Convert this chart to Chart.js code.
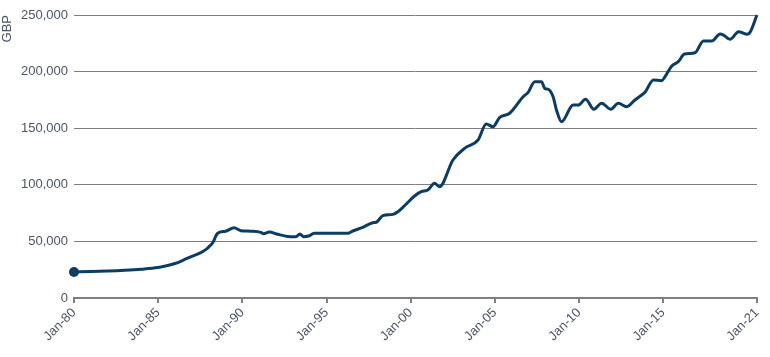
<!DOCTYPE html>
<html>
<head>
<meta charset="utf-8">
<script src="https://cdn.jsdelivr.net/npm/chart.js@4"></script>
<style>
  html, body { margin: 0; padding: 0; background: #fff; }
  #wrap { width: 770px; height: 357px; }
</style>
</head>
<body>
<div id="wrap"><canvas id="c" width="770" height="357"></canvas></div>
<script>
// Time (decimal years) and value (GBP)
const years = [
  1980.0, 1981.0, 1982.0, 1983.0, 1984.0, 1985.0, 1985.5, 1986.0, 1986.5, 1987.0, 1987.5, 1987.8, 1988.0, 1988.25,
  1988.52, 1989.0, 1989.51, 1989.91, 1990.5, 1991.10, 1991.26, 1991.60, 1992.10, 1992.69,
  1993.18, 1993.42, 1993.64, 1993.98, 1994.27, 1996.26, 1996.56, 1997.15, 1997.75, 1997.95,
  1998.35, 1998.94, 1999.24, 1999.63, 2000.23, 2000.63, 2001.02, 2001.42, 2001.71, 2002.51,
  2003.20, 2004.00, 2004.49, 2004.89, 2005.29, 2005.88, 2006.68, 2006.98, 2007.37, 2007.77,
  2007.96, 2008.17, 2008.46, 2008.66, 2008.96, 2009.65, 2009.95, 2010.39, 2010.88, 2011.34,
  2011.89, 2012.33, 2012.83, 2013.32, 2013.72, 2013.92, 2014.42, 2014.91, 2015.11, 2015.51,
  2015.90, 2016.26, 2016.89, 2017.39, 2017.89, 2018.38, 2018.58, 2018.98, 2019.48, 2019.95,
  2020.11, 2020.57
];
const values = [
  23000, 23300, 23800, 24500, 25500, 27000, 28500, 30500, 33500, 36800, 39800, 42500, 45000, 49000,
  57000, 59000, 62000, 59500, 59000, 58000, 56800, 58300, 56300, 54400,
  54200, 56500, 54200, 55000, 57200, 57200, 59200, 62400, 66500, 66900,
  72700, 73900, 76200, 81500, 90100, 93900, 95400, 101300, 98300, 121900,
  132200, 139600, 153700, 151300, 159600, 163200, 177800, 181700, 191100, 191100,
  185200, 184400, 177800, 166100, 155700, 170500, 170500, 175500, 166700, 172000,
  166700, 172000, 169000, 174900, 179300, 181700, 192600, 192000, 195500, 205000,
  208800, 215500, 216700, 227000, 227000, 233200, 232300, 228500, 235300, 233000,
  233800, 250000
];
// Axis tick labels and where they sit on the time axis
const tickYears = [1980, 1985, 1990, 1995, 2000, 2005, 2010, 2015, 2020.57];
const tickLabels = ["Jan-80", "Jan-85", "Jan-90", "Jan-95", "Jan-00", "Jan-05", "Jan-10", "Jan-15", "Jan-21"];
const yMax = 250000;
const yStep = 50000;

const points = years.map((x, i) => ({ x: x, y: values[i] }));
const textColor = '#4a5566';
const gridColor = '#7f7f7f';
const lineColor = '#0b3c64';
const FONT = { family: "'Liberation Sans', Arial, sans-serif", size: 13 };

new Chart(document.getElementById('c'), {
  type: 'line',
  data: {
    datasets: [{
      data: points,
      borderColor: lineColor,
      backgroundColor: lineColor,
      borderWidth: 3,
      cubicInterpolationMode: 'monotone',
      borderJoinStyle: 'round',
      pointRadius: ctx => ctx.dataIndex === 0 ? 5 : 0,
      pointHoverRadius: 0,
      pointBackgroundColor: lineColor,
      pointBorderWidth: 0,
      clip: false
    }]
  },
  options: {
    responsive: false,
    animation: false,
    events: [],
    layout: { padding: { left: 0, right: 13, top: 15, bottom: 0 } },
    plugins: { legend: { display: false }, tooltip: { enabled: false } },
    scales: {
      x: {
        type: 'linear',
        min: tickYears[0],
        max: tickYears[tickYears.length - 1],
        afterBuildTicks: s => { s.ticks = tickYears.map(v => ({ value: v })); },
        afterFit: s => { s.height = 59; },
        ticks: {
          autoSkip: false,
          minRotation: 45,
          maxRotation: 45,
          color: textColor,
          font: FONT,
          padding: 2,
          callback: (v, i) => tickLabels[i]
        },
        grid: { drawOnChartArea: false, drawTicks: true, tickLength: 5, color: gridColor, lineWidth: 2 },
        border: { display: true, color: gridColor, width: 2 }
      },
      y: {
        min: 0,
        max: yMax,
        afterFit: s => { s.width = 74; },
        ticks: {
          stepSize: yStep,
          color: textColor,
          font: FONT,
          padding: 6,
          callback: v => v.toLocaleString('en-US')
        },
        grid: { drawTicks: false, color: gridColor, lineWidth: 1 },
        border: { display: false },
        title: {
          display: true,
          text: 'GBP',
          align: 'end',
          color: textColor,
          font: FONT,
          padding: { top: 0, bottom: 0 }
        }
      }
    }
  }
});
</script>
</body>
</html>
